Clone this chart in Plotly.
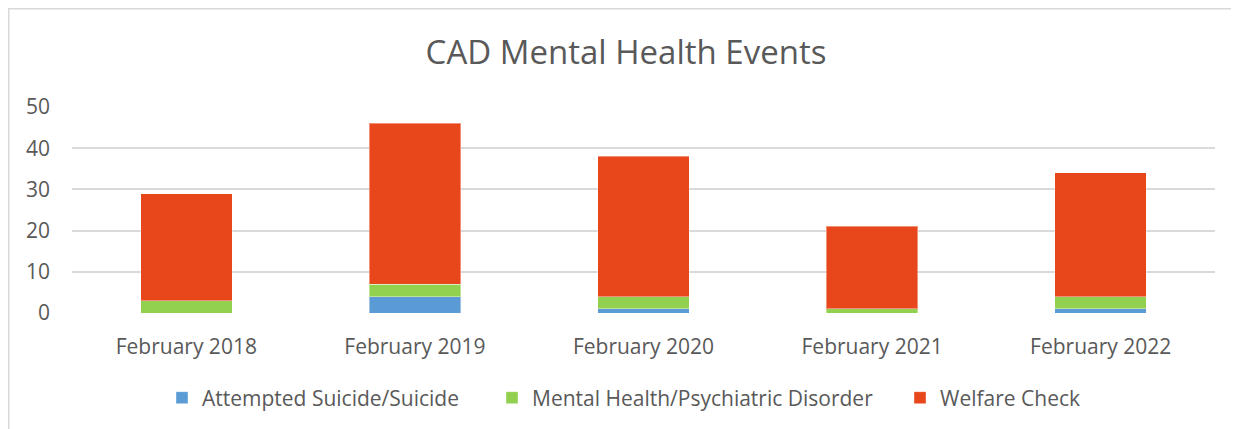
import plotly.graph_objects as go

categories = ["February 2018", "February 2019", "February 2020", "February 2021", "February 2022"]
attempted_suicide = [0, 4, 1, 0, 1]
mental_health = [3, 3, 3, 1, 3]
welfare_check = [26, 39, 34, 20, 30]
y_ticks = [0, 10, 20, 30, 40, 50]

font_family = "'Open Sans', sans-serif"
grey = "#595959"

W, H = 1231, 421
L, R, T, B = 64, 24, 99, 116
PW, PH = W - L - R, H - T - B

def px_x(x):
    return (x - L) / PW

def px_y(y):
    return (H - B - y) / PH

fig = go.Figure()
series = [
    ("Attempted Suicide/Suicide", attempted_suicide, "#5B9BD5", "legend", 168),
    ("Mental Health/Psychiatric Disorder", mental_health, "#92D050", "legend2", 498),
    ("Welfare Check", welfare_check, "#E8471B", "legend3", 906),
]
legends = {}
for name, vals, color, lg, sq_x in series:
    fig.add_trace(go.Bar(
        x=categories, y=vals, name=name, legend=lg,
        marker=dict(color=color, line=dict(color="rgba(255,255,255,0.4)", width=1)),
    ))
    legends[lg] = dict(orientation="h", x=px_x(sq_x - 14), xanchor="left",
                       y=px_y(390), yanchor="middle",
                       font=dict(family=font_family, size=21, color=grey),
                       bgcolor="rgba(0,0,0,0)", itemwidth=30)

fig.update_layout(
    width=W, height=H,
    barmode="stack", bargap=0.6,
    paper_bgcolor="white", plot_bgcolor="white",
    margin=dict(l=L, r=R, t=T, b=B, autoexpand=False),
    title=dict(text="CAD Mental Health Events", xref="paper", x=px_x(618), xanchor="center",
               y=1 - 44 / H, yanchor="middle",
               font=dict(family=font_family, size=33, color=grey)),
    font=dict(family=font_family, size=21, color=grey),
    showlegend=True,
    xaxis=dict(showgrid=False, showline=False, ticks="", ticklabelstandoff=19,
               tickfont=dict(size=21, color=grey)),
    yaxis=dict(range=[0, 50], tickvals=y_ticks, showgrid=True, gridcolor="#D9D9D9",
               gridwidth=1.5, zeroline=False, showline=False, ticks="",
               ticklabelstandoff=21, tickfont=dict(size=21, color=grey)),
    **legends,
)

fig.add_shape(type="rect", xref="paper", yref="paper",
              x0=px_x(0.75), x1=px_x(1280), y0=px_y(460), y1=px_y(0.75),
              line=dict(color="#D9D9D9", width=1.5), fillcolor="rgba(0,0,0,0)", layer="below")

fig.write_html("out.html")
